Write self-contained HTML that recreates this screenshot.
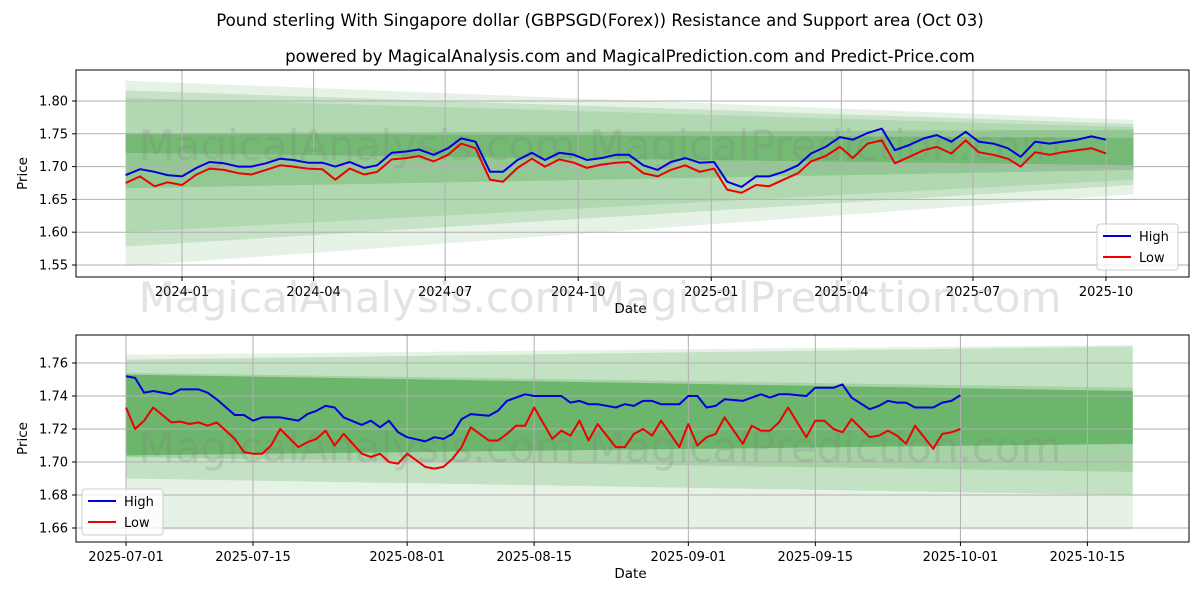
<!DOCTYPE html>
<html><head><meta charset="utf-8"><style>
body{margin:0;background:#fff;}
svg text{font-family:"DejaVu Sans","Liberation Sans",sans-serif;}
</style></head><body>
<svg id="c" width="1200" height="600" xmlns="http://www.w3.org/2000/svg">
<text x="600" y="26" text-anchor="middle" font-size="16.6">Pound sterling With Singapore dollar (GBPSGD(Forex)) Resistance and Support area (Oct 03)</text>
<text x="630" y="62" text-anchor="middle" font-size="16.6">powered by MagicalAnalysis.com and MagicalPrediction.com and Predict-Price.com</text>
<g id="top"></g>
<g id="bot"></g>
</svg>
<script>
// ---- top chart data ----
const topDays=[-39,-29,-19,-10,0,10,19,29,39,48,58,68,77,87,97,106,116,126,135,145,155,164,174,184,193,203,213,222,232,242,251,261,271,280,290,300,309,319,329,338,348,358,368,377,387,397,406,416,426,435,445,455,464,474,484,493,503,513,522,532,542,551,561,571,580,590,600,609,619,629,639];
const topHigh=[1.687,1.696,1.692,1.687,1.685,1.698,1.707,1.705,1.700,1.700,1.705,1.712,1.710,1.706,1.706,1.700,1.707,1.698,1.702,1.721,1.723,1.726,1.718,1.728,1.743,1.738,1.692,1.692,1.710,1.721,1.710,1.721,1.718,1.710,1.713,1.718,1.718,1.702,1.695,1.707,1.713,1.706,1.707,1.677,1.669,1.685,1.685,1.692,1.702,1.720,1.730,1.745,1.741,1.751,1.758,1.725,1.733,1.743,1.748,1.738,1.753,1.738,1.735,1.728,1.715,1.738,1.735,1.738,1.741,1.746,1.741];
const topLow=[1.675,1.685,1.670,1.676,1.672,1.688,1.697,1.695,1.690,1.688,1.695,1.702,1.700,1.697,1.696,1.680,1.697,1.688,1.692,1.711,1.713,1.716,1.708,1.718,1.735,1.728,1.680,1.677,1.698,1.712,1.700,1.711,1.706,1.698,1.703,1.706,1.707,1.690,1.685,1.695,1.702,1.692,1.697,1.665,1.660,1.672,1.670,1.680,1.690,1.708,1.716,1.730,1.713,1.735,1.740,1.705,1.715,1.725,1.730,1.720,1.740,1.722,1.718,1.712,1.700,1.722,1.718,1.722,1.725,1.728,1.720];
const topBandDays=[-39,658];
const topBands=[[1.831,1.548,1.771,1.658],[1.816,1.578,1.765,1.672],[1.805,1.600,1.760,1.680],[1.751,1.667,1.756,1.695],[1.751,1.721,1.744,1.702]];
const topBandOp=[0.10,0.13,0.10,0.18,0.2];
const topYTicks=[1.55,1.60,1.65,1.70,1.75,1.80];
const topXTicks=[0,91,182,274,366,456,547,639];
const topXLabels=["2024-01","2024-04","2024-07","2024-10","2025-01","2025-04","2025-07","2025-10"];
// ---- bottom chart data ----
const botDays=[0,1,2,3,5,6,7,8,9,10,12,13,14,15,16,17,19,20,21,22,23,24,26,27,28,29,30,31,33,34,35,36,37,38,40,41,42,43,44,45,47,48,49,50,51,52,54,55,56,57,58,59,61,62,63,64,65,66,68,69,70,71,72,73,75,76,77,78,79,80,82,83,84,85,86,87,89,90,91,92];
const botHigh=[1.752,1.751,1.742,1.743,1.741,1.744,1.744,1.744,1.742,1.738,1.7285,1.7285,1.725,1.727,1.727,1.727,1.725,1.729,1.731,1.734,1.733,1.727,1.7225,1.725,1.721,1.725,1.718,1.715,1.7125,1.715,1.714,1.717,1.726,1.729,1.728,1.731,1.737,1.739,1.741,1.740,1.740,1.740,1.736,1.737,1.735,1.735,1.733,1.735,1.734,1.737,1.737,1.735,1.735,1.740,1.740,1.733,1.734,1.738,1.737,1.739,1.741,1.739,1.741,1.741,1.740,1.745,1.745,1.745,1.747,1.739,1.732,1.734,1.737,1.736,1.736,1.733,1.733,1.736,1.737,1.7405];
const botLow=[1.733,1.720,1.725,1.733,1.724,1.7245,1.723,1.724,1.722,1.724,1.714,1.706,1.705,1.705,1.710,1.720,1.709,1.712,1.714,1.719,1.710,1.717,1.705,1.703,1.705,1.700,1.699,1.705,1.697,1.696,1.697,1.702,1.709,1.721,1.713,1.713,1.717,1.722,1.722,1.733,1.714,1.719,1.716,1.725,1.713,1.723,1.709,1.709,1.717,1.720,1.716,1.725,1.709,1.723,1.710,1.715,1.717,1.727,1.711,1.722,1.719,1.719,1.724,1.733,1.715,1.725,1.725,1.720,1.718,1.726,1.715,1.716,1.719,1.716,1.711,1.722,1.708,1.717,1.718,1.720];
const botBandDays=[0,111];
const botBands=[[1.765,1.659,1.771,1.659],[1.762,1.690,1.770,1.680],[1.754,1.703,1.745,1.694],[1.753,1.704,1.743,1.711]];
const botBandOp=[0.10,0.15,0.15,0.35];
const botYTicks=[1.66,1.68,1.70,1.72,1.74,1.76];
const botXTicks=[0,14,31,45,62,76,92,106];
const botXLabels=["2025-07-01","2025-07-15","2025-08-01","2025-08-15","2025-09-01","2025-09-15","2025-10-01","2025-10-15"];

const NS="http://www.w3.org/2000/svg";
function mk(p,t,a){const e=document.createElementNS(NS,t);for(const k in a)e.setAttribute(k,a[k]);p.appendChild(e);return e;}

function panel(g,cfg){
  const L=76,R=1189,T=cfg.top,B=cfg.bottom;
  const xs=d=>cfg.x0+(d-cfg.d0)*cfg.k;
  const ys=v=>cfg.y0+(v-cfg.v0)*cfg.yk;
  cfg.bands.forEach((b,i)=>{
    const xa=xs(cfg.bandDays[0]),xb=xs(cfg.bandDays[1]);
    const p=mk(g,'polygon',{points:`${xa},${ys(b[0])} ${xb},${ys(b[2])} ${xb},${ys(b[3])} ${xa},${ys(b[1])}`,fill:'#008000','fill-opacity':cfg.bandOp[i]});
    
    
  });
  cfg.yt.forEach(v=>{
    const y=ys(v);
    const l=mk(g,'line',{x1:L,x2:R,y1:y,y2:y,stroke:'#b0b0b0','stroke-width':1});
    
    
    mk(g,'line',{x1:L-4,x2:L,y1:y,y2:y,stroke:'#000'});
    const t=mk(g,'text',{x:L-8,y:y+4.5,'text-anchor':'end','font-size':13});
    t.textContent=v.toFixed(2);
    
    
  });
  cfg.xt.forEach((d,i)=>{
    const x=xs(d);
    const l=mk(g,'line',{x1:x,x2:x,y1:T,y2:B,stroke:'#b0b0b0','stroke-width':1});
    
    
    mk(g,'line',{x1:x,x2:x,y1:B,y2:B+4,stroke:'#000'});
    const t=mk(g,'text',{x:x,y:B+19,'text-anchor':'middle','font-size':13});
    t.textContent=cfg.xl[i];
    
    
  });
  const w=mk(g,'text',{x:600,y:cfg.wm,'text-anchor':'middle','font-size':42,fill:'#808080','fill-opacity':0.22});
  w.textContent='MagicalAnalysis.com   MagicalPrediction.com';
  
  
  const line=(vals,col,name)=>{
    const pts=cfg.days.map((d,i)=>`${xs(d).toFixed(1)},${ys(vals[i]).toFixed(1)}`).join(' ');
    const p=mk(g,'polyline',{points:pts,fill:'none',stroke:col,'stroke-width':2,'stroke-linejoin':'round'});
    
    
  };
  line(cfg.high,'#0000dd','high-line');
  line(cfg.low,'#ee0000','low-line');
  const fr=mk(g,'rect',{x:L,y:T,width:R-L,height:B-T,fill:'none',stroke:'#000','stroke-width':1});
  
  
  const yl=mk(g,'text',{x:0,y:0,'font-size':13.5,'text-anchor':'middle',transform:`translate(${cfg.ylx},${(T+B)/2}) rotate(-90)`});
  yl.textContent='Price';
  
  
  const xl=mk(g,'text',{x:(L+R)/2-2,y:B+36,'font-size':13.5,'text-anchor':'middle'});
  xl.textContent='Date';
  
  
  const lg=mk(g,'g',{});
  
  
  mk(lg,'rect',{x:cfg.lgx,y:cfg.lgy,width:81,height:46,rx:3,fill:'#fff','fill-opacity':0.8,stroke:'#ccc'});
  [['High','#0000dd'],['Low','#ee0000']].forEach((e,i)=>{
    const yy=cfg.lgy+12+i*21;
    mk(lg,'line',{x1:cfg.lgx+6,x2:cfg.lgx+34,y1:yy,y2:yy,stroke:e[1],'stroke-width':2});
    const t=mk(lg,'text',{x:cfg.lgx+42,y:yy+5,'font-size':13});
    t.textContent=e[0];
    
    
  });
}
panel(document.getElementById('top'),{top:70,bottom:277,x0:182,d0:0,k:924/639,y0:101,v0:1.80,yk:-656,
  bands:topBands,bandOp:topBandOp,bandDays:topBandDays,yt:topYTicks,xt:topXTicks,xl:topXLabels,
  days:topDays,high:topHigh,low:topLow,wm:160,ylx:27,lgx:1097,lgy:224});
panel(document.getElementById('bot'),{top:335,bottom:542,x0:126,d0:0,k:9.07,y0:363,v0:1.76,yk:-1650,
  bands:botBands,bandOp:botBandOp,bandDays:botBandDays,yt:botYTicks,xt:botXTicks,xl:botXLabels,
  days:botDays,high:botHigh,low:botLow,wm:462,ylx:27,lgx:82,lgy:489});
const wm2=mk(document.getElementById('c'),'text',{x:600,y:312,'text-anchor':'middle','font-size':42,fill:'#808080','fill-opacity':0.22});
wm2.textContent='MagicalAnalysis.com   MagicalPrediction.com';


</script>
</body></html>
